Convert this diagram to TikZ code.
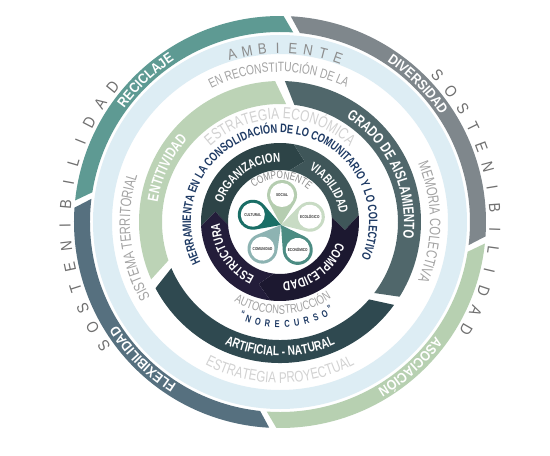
\documentclass[tikz,border=0pt]{standalone}
\usepackage{fontspec}
\setmainfont{Liberation Sans}
\newfontfamily\fa[FakeStretch=0.88]{Liberation Sans}
\newfontfamily\fb[FakeStretch=0.75]{Liberation Sans}
\usetikzlibrary{decorations.text}
\definecolor{teal1}{HTML}{5E9A93}
\definecolor{gray1}{HTML}{7F878C}
\definecolor{green1}{HTML}{B7D0B1}
\definecolor{slate1}{HTML}{56707F}
\definecolor{lblue}{HTML}{DDEDF4}
\definecolor{green2}{HTML}{BCD3B6}
\definecolor{slate2}{HTML}{50676B}
\definecolor{dark2}{HTML}{2F4950}
\definecolor{orgc}{HTML}{2D4447}
\definecolor{viac}{HTML}{3F5659}
\definecolor{compc}{HTML}{1C1830}
\definecolor{estc}{HTML}{231D3A}
\definecolor{navy}{HTML}{1E3A64}
\definecolor{txtgray}{HTML}{8C8C8C}
\definecolor{txtgray2}{HTML}{A3A3A3}
\definecolor{txtlight}{HTML}{D2D2D2}
\definecolor{sosgray}{HTML}{707070}
\definecolor{petS}{HTML}{B5CDB0}
\definecolor{petE}{HTML}{C8DBC4}
\definecolor{petN}{HTML}{4C8C83}
\definecolor{petC}{HTML}{8DB3B2}
\definecolor{petU}{HTML}{1A6E66}
% ring segment with slanted ends: rin rout a b slant fill
\newcommand\segP[6]{\fill[#6] (#3:#2) arc[start angle=#3, end angle=#4, radius=#2] -- ({#4-#5}:#1) arc[start angle={#4-#5}, end angle={#3-#5}, radius=#1] -- cycle;}
% chevron segment: rin rout rmid a b delta fill
\newcommand\chev[7]{\fill[#7] (#4:#2) arc[start angle=#4, end angle=#5, radius=#2] -- ({#5-#6}:#3) -- (#5:#1) arc[start angle=#5, end angle=#4, radius=#1] -- ({#4-#6}:#3) -- cycle;}
% clockwise text: radius centre halfspan colour format text
\newcommand\cwtext[6]{\path[decorate,decoration={text along path,text align=center,text color=#4,text={|#5|#6}}] ({#2+#3}:#1) arc[start angle={#2+#3}, end angle={#2-#3}, radius=#1];}
% counter-clockwise text
\newcommand\ccwtext[6]{\path[decorate,decoration={text along path,text align=center,text color=#4,text={|#5|#6}}] ({#2-#3}:#1) arc[start angle={#2-#3}, end angle={#2+#3}, radius=#1];}
\begin{document}
\begin{tikzpicture}[x=1pt,y=1pt,
  sos/.style={inner sep=0pt,text=sosgray,font=\fa\fontsize{16pt}{16pt}\selectfont},
  amb/.style={inner sep=0pt,text=txtgray,font=\fa\fontsize{15pt}{15pt}\selectfont},
  nrec/.style={inner sep=0pt,text=navy,font=\fb\bfseries\fontsize{10pt}{10pt}\selectfont},
  petlbl/.style={inner sep=0pt,text=black!80,font=\fb\bfseries\fontsize{4.2pt}{5pt}\selectfont}]
\useasboundingbox[fill=white] (-280,-234) rectangle (270,222);
% outer ring
\segP{190pt}{206pt}{87}{-4}{3}{gray1}
\segP{190pt}{206pt}{-6}{-91}{3}{green1}
\segP{190pt}{206pt}{-93}{-184}{3}{slate1}
\segP{190pt}{206pt}{174}{89}{3}{teal1}
% light blue ring
\fill[lblue,even odd rule] (0,0) circle (187pt) (0,0) circle (168pt);
% middle ring
\segP{118pt}{141pt}{88}{-32}{5}{slate2}
\segP{118pt}{141pt}{-36}{-152}{5}{dark2}
\segP{118pt}{141pt}{204}{92}{5}{green2}
% inner ring
\chev{52pt}{79pt}{65.5pt}{183}{80}{12}{orgc}
\chev{52pt}{79pt}{65.5pt}{80}{5}{12}{viac}
\chev{52pt}{79pt}{65.5pt}{5}{-97}{12}{compc}
\chev{52pt}{79pt}{65.5pt}{263}{183}{12}{estc}
% outer ring texts
\cwtext{193pt}{133.5}{60}{white}{\fa\bfseries\fontsize{14pt}{14pt}\selectfont}{RECICLAJE}
\cwtext{193pt}{45}{60}{white}{\fa\bfseries\fontsize{14pt}{14pt}\selectfont}{DIVERSIDAD}
\cwtext{193pt}{-48}{60}{white}{\fa\bfseries\fontsize{14pt}{14pt}\selectfont}{ASOCIACIÓN}
\cwtext{193pt}{225}{60}{white}{\fa\bfseries\fontsize{14pt}{14pt}\selectfont}{FLEXIBILIDAD}
% sostenibilidad
\foreach \ch [count=\i from 0] in {S,O,S,T,E,N,I,B,I,L,I,D,A,D}{
  \pgfmathsetmacro\ang{215-\i*5.69}
  \node[sos,rotate=\ang-90] (sosL\i) at (\ang:215pt) {\ch};}
\foreach \ch [count=\i from 0] in {S,O,S,T,E,N,I,B,I,L,I,D,A,D}{
  \pgfmathsetmacro\ang{43-\i*5.62}
  \node[sos,rotate=\ang-90] (sosR\i) at (\ang:215pt) {\ch};}
% ambiente
\foreach \ch [count=\i from 0] in {A,M,B,I,E,N,T,E}{
  \pgfmathsetmacro\ang{106-\i*5.07}
  \node[amb,rotate=\ang-90] (amb\i) at (\ang:174pt) {\ch};}
% white zone texts
\cwtext{150pt}{90.5}{70}{txtgray2}{\fb\fontsize{13.5pt}{13.5pt}\selectfont}{EN RECONSTITUCIÓN DE LA}
\cwtext{150pt}{186}{70}{txtgray2}{\fb\fontsize{15pt}{15pt}\selectfont}{SISTEMA TERRITORIAL}
\cwtext{150pt}{0}{70}{txtgray2}{\fb\fontsize{15pt}{15pt}\selectfont}{MEMORIA COLECTIVA}
% middle ring texts
\cwtext{124pt}{25}{70}{white}{\fb\bfseries\fontsize{15pt}{15pt}\selectfont}{GRADO DE AISLAMIENTO}
\cwtext{124pt}{154.5}{60}{white}{\fb\bfseries\fontsize{15pt}{15pt}\selectfont}{ENTITIVIDAD}
\ccwtext{134pt}{270}{70}{white}{\fb\bfseries\fontsize{13.5pt}{13.5pt}\selectfont}{ARTIFICIAL - NATURAL}
\ccwtext{161pt}{270}{70}{txtlight}{\fb\fontsize{15.5pt}{15.5pt}\selectfont}{ESTRATEGIA PROYECTUAL}
\ccwtext{92pt}{272}{80}{txtgray2}{\fb\fontsize{12.5pt}{12.5pt}\selectfont}{AUTOCONSTRUCCIÓN}
% no recurso
\foreach \ch [count=\i from 0] in {N,O,R,E,C,U,R,S,O}{
  \pgfmathsetmacro\ang{252+\i*5.5}
  \node[nrec,rotate=\ang+90] (nr\i) at (\ang:102pt) {\ch};}
\node[nrec,rotate=248+90] (q1) at (248:99.5pt) {“};
\node[nrec,rotate=300+90] (q2) at (300:99.5pt) {”};
% inner texts
\cwtext{103pt}{90}{80}{txtlight}{\fb\fontsize{16pt}{16pt}\selectfont}{ESTRATEGIA ECONÓMICA}
\cwtext{89pt}{91.5}{175}{navy}{\fb\bfseries\fontsize{12.3pt}{12.3pt}\selectfont}{HERRAMIENTA EN LA CONSOLIDACIÓN DE LO COMUNITARIO Y LO COLECTIVO}
\cwtext{60pt}{126}{80}{white}{\fb\bfseries\fontsize{13pt}{13pt}\selectfont}{ORGANIZACION}
\cwtext{60pt}{34.5}{80}{white}{\fb\bfseries\fontsize{13pt}{13pt}\selectfont}{VIABILIDAD}
\cwtext{60pt}{-53.5}{80}{white}{\fb\bfseries\fontsize{13pt}{13pt}\selectfont}{COMPLEJIDAD}
\cwtext{60pt}{213}{80}{white}{\fb\bfseries\fontsize{13pt}{13pt}\selectfont}{ESTRUCTURA}
\cwtext{43pt}{88}{120}{txtgray}{\fb\fontsize{11pt}{11pt}\selectfont}{COMPONENTE}
% petals
\foreach \a/\c/\t/\n in {88/petS/SOCIAL/soc,16/petE/ECOLÓGICO/eco,-56/petN/ECONÓMICO/econ,-128/petC/COMUNIDAD/comu,160/petU/CULTURAL/cult}{
  \begin{scope}[shift={(1,-3)},rotate=\a]
    \fill[\c] (0,0) -- (22.5,-12.99) arc[start angle=-120,end angle=120,radius=15] -- cycle;
    \fill[white] (30,0) circle (12);
    \node[petlbl] (\n) at (30,0) {\t};
  \end{scope}}
\end{tikzpicture}
\end{document}
